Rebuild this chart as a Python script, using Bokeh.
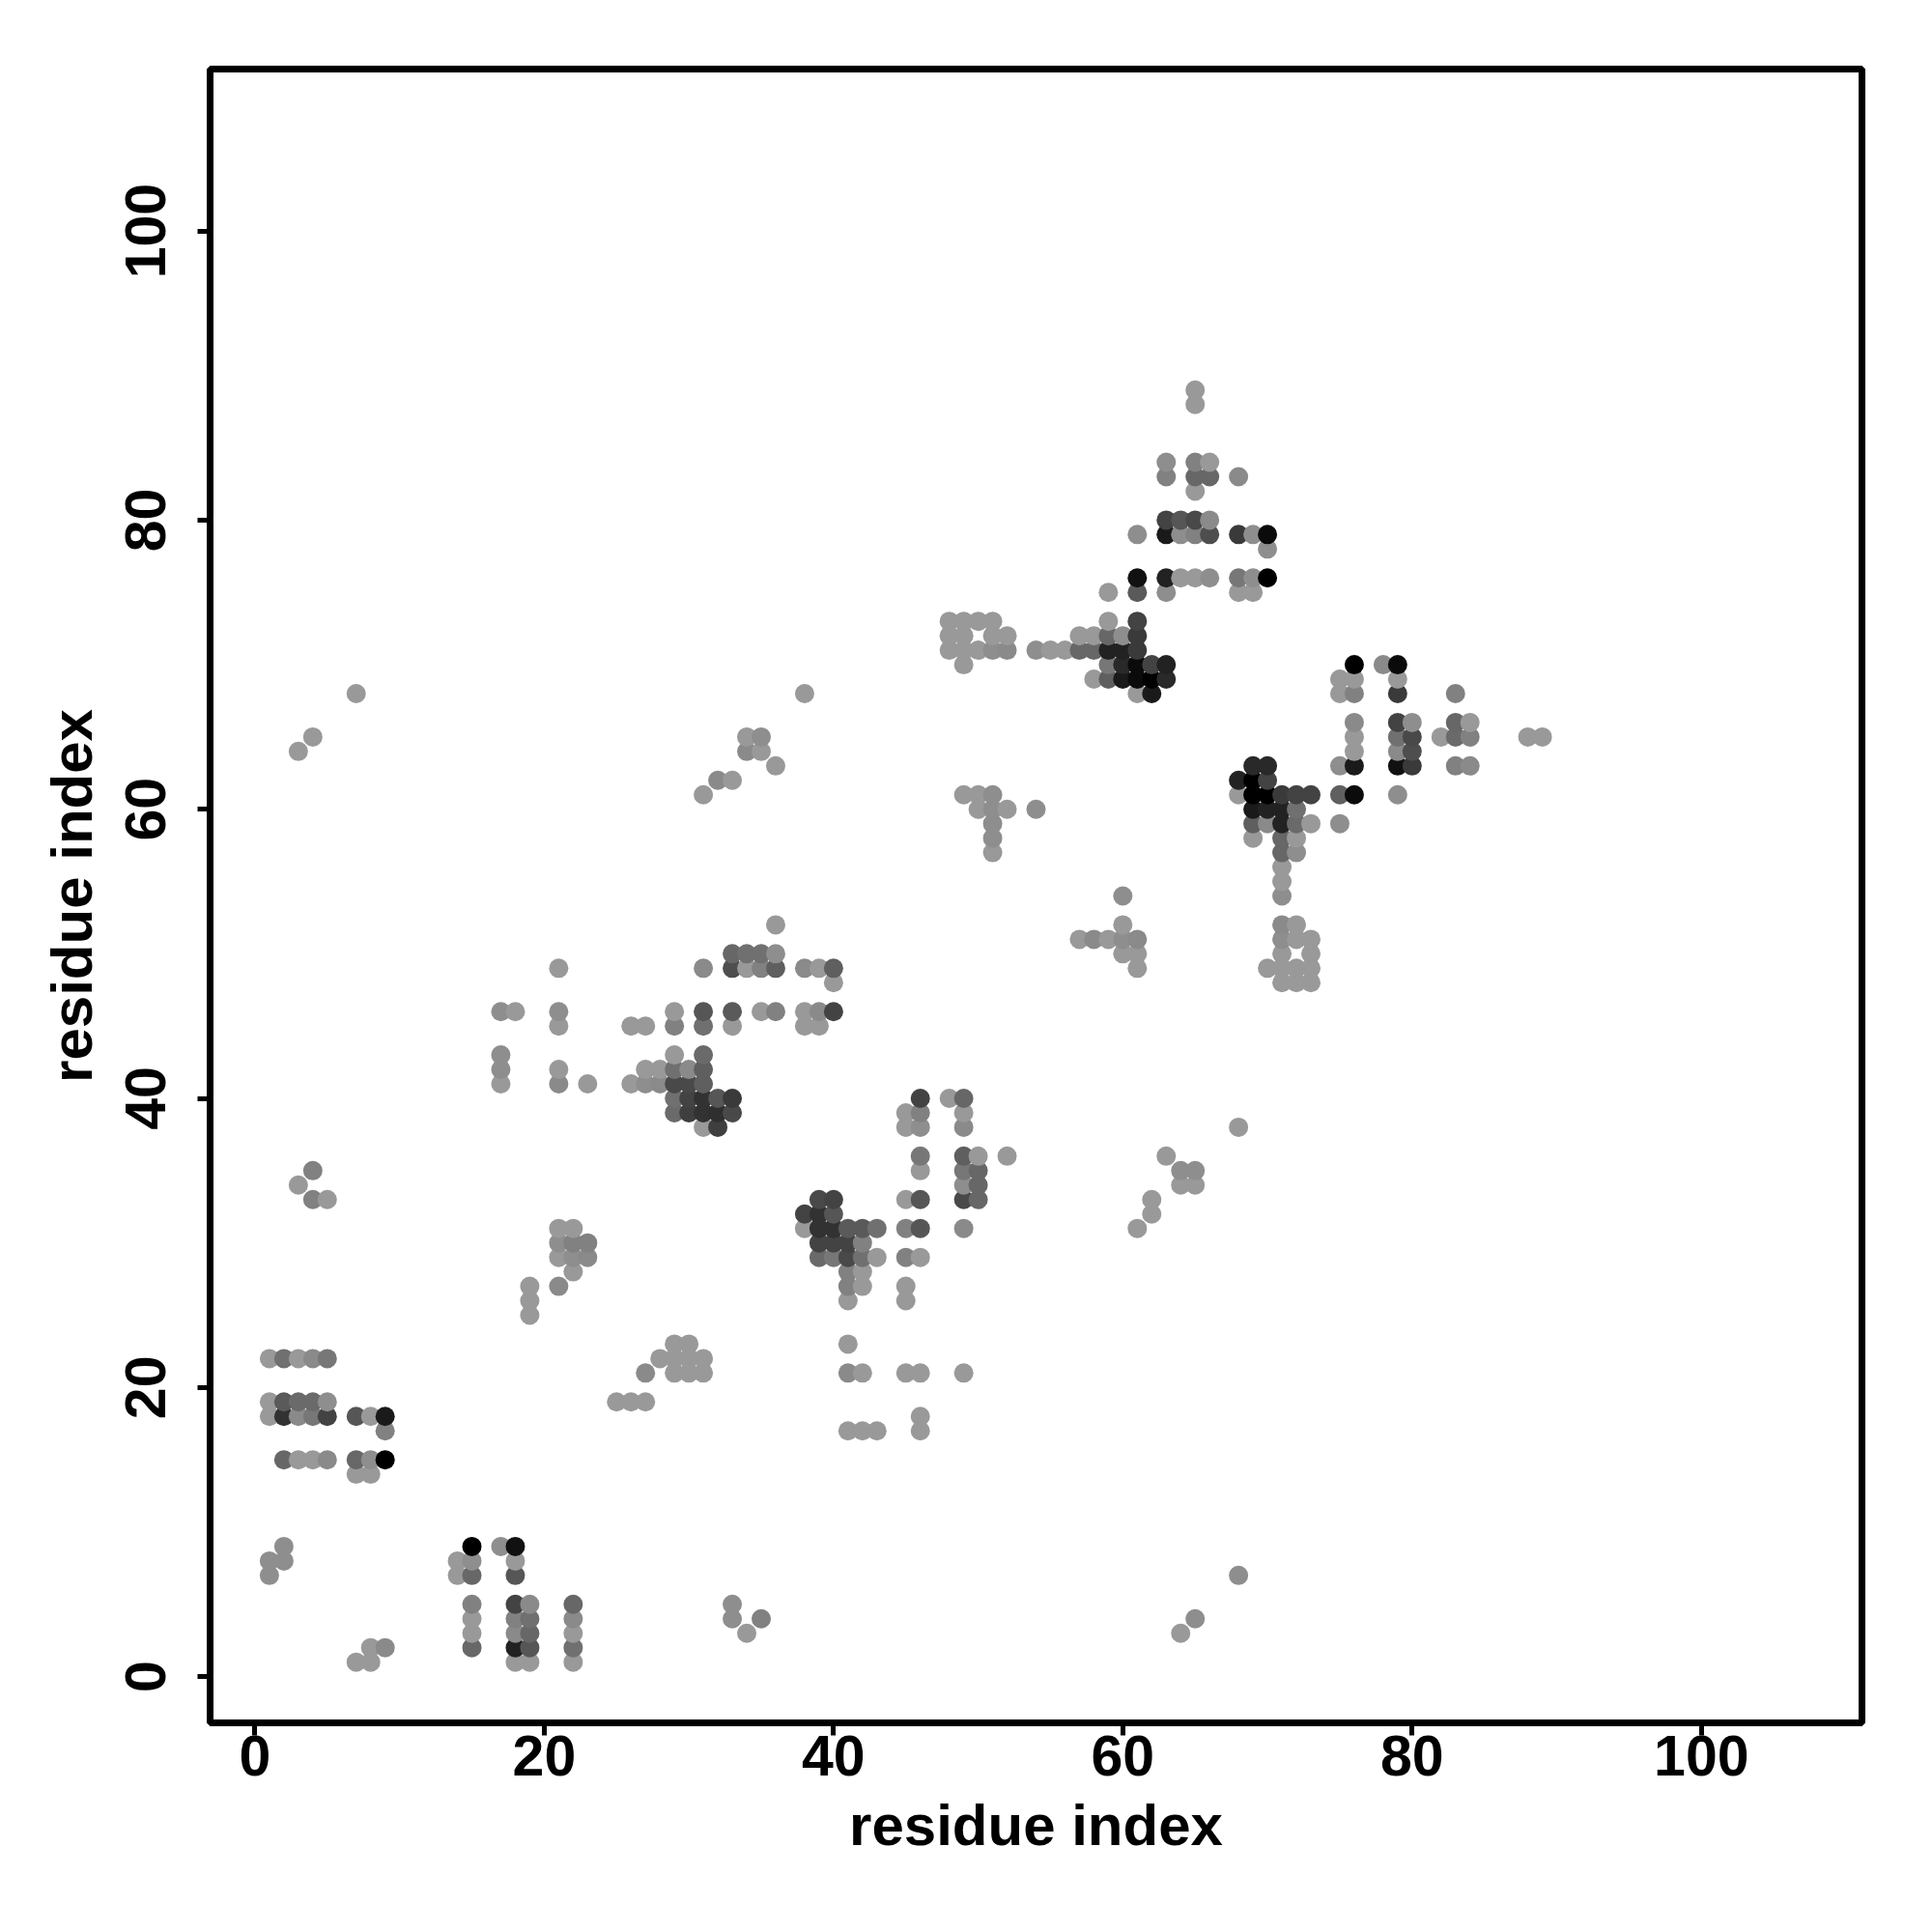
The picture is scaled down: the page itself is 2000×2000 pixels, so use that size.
from bokeh.plotting import figure
from bokeh.models import ColumnDataSource, Range1d, FixedTicker
from bokeh.embed import file_html
from bokeh.resources import INLINE

# Contact rows: each row is one y residue, with its x residues and a contact score (0-100).
row_y = [1, 2, 3, 4, 5, 7, 8, 9, 14, 15, 17, 18, 19, 21, 22, 23, 25, 26, 27, 28, 29, 30, 31, 32, 33, 34, 35, 36, 38, 39, 40,
         41, 42, 43, 45, 46, 48, 49, 50, 51, 52, 54, 55, 56, 57, 58, 59, 60, 61, 62, 63, 64, 65, 66, 68, 69, 70, 71, 72, 73,
         75, 76, 78, 79, 80, 82, 83, 84, 88, 89]
row_x = [
    [7, 8, 18, 19, 22],
    [8, 9, 15, 18, 19, 22],
    [15, 18, 19, 22, 34, 64],
    [15, 18, 19, 22, 33, 35, 65],
    [15, 18, 19, 22, 33],
    [1, 14, 15, 18, 68],
    [1, 2, 14, 15, 18],
    [2, 15, 17, 18],
    [7, 8],
    [2, 3, 4, 5, 7, 8, 9],
    [9, 41, 42, 43, 46],
    [1, 2, 3, 4, 5, 7, 8, 9, 46],
    [1, 2, 3, 4, 5, 25, 26, 27],
    [27, 29, 30, 31, 41, 42, 45, 46, 49],
    [1, 2, 3, 4, 5, 28, 29, 30, 31],
    [29, 30, 41],
    [19],
    [19, 41, 45],
    [19, 21, 41, 42, 45],
    [22, 41, 42],
    [21, 22, 23, 39, 40, 41, 42, 43, 45, 46],
    [21, 22, 23, 39, 40, 41, 42],
    [21, 22, 38, 39, 40, 41, 42, 43, 45, 46, 49, 61],
    [38, 39, 40, 62],
    [4, 5, 39, 40, 45, 46, 49, 50, 62],
    [3, 49, 50, 64, 65],
    [4, 46, 49, 50, 64, 65],
    [46, 49, 50, 52, 63],
    [31, 32, 45, 46, 49, 68],
    [29, 30, 31, 32, 33, 45, 46, 49],
    [29, 30, 31, 32, 33, 46, 48, 49],
    [17, 21, 23, 26, 27, 28, 29, 30, 31],
    [17, 21, 27, 28, 29, 30, 31],
    [17, 29, 31],
    [21, 26, 27, 29, 31, 33, 38, 39],
    [17, 18, 21, 29, 31, 33, 35, 36, 38, 39, 40],
    [40, 71, 72, 73],
    [21, 31, 33, 34, 35, 36, 38, 39, 40, 61, 70, 71, 72, 73],
    [33, 34, 35, 36, 60, 61, 71, 73],
    [57, 58, 59, 60, 61, 71, 72, 73],
    [36, 60, 71, 72],
    [60, 71],
    [71],
    [71],
    [51, 71, 72],
    [51, 69, 71, 72],
    [51, 69, 70, 71, 72, 73, 75],
    [50, 51, 52, 54, 69, 70, 71, 72],
    [31, 49, 50, 51, 68, 69, 70, 71, 72, 73, 75, 76, 79],
    [32, 33, 68, 69, 70],
    [36, 69, 70, 75, 76, 79, 80, 83, 84],
    [3, 34, 35, 76, 79, 80],
    [4, 34, 35, 76, 79, 80, 82, 83, 84, 88, 89],
    [76, 79, 80, 83, 84],
    [7, 38, 61, 62, 75, 76, 79, 83],
    [58, 59, 60, 61, 62, 63, 75, 76, 79],
    [49, 59, 60, 61, 62, 63, 76, 78, 79],
    [48, 49, 50, 51, 52, 54, 55, 56, 57, 58, 59, 60, 61],
    [48, 49, 51, 52, 57, 58, 59, 60, 61],
    [48, 49, 50, 51, 59, 61],
    [59, 61, 63, 68, 69],
    [61, 63, 64, 65, 66, 68, 69, 70],
    [70],
    [61, 63, 64, 65, 66, 68, 69, 70],
    [63, 64, 65, 66],
    [65],
    [63, 65, 66, 68],
    [63, 65, 66],
    [65],
    [65],
]
row_score = [
    [0, 0, 0, 0, 0],
    [0, 10, 33, 78, 44, 27],
    [0, 10, 33, 0, 0, 0],
    [0, 16, 27, 10, 7, 16, 7],
    [16, 56, 10, 33, 7],
    [7, 0, 33, 44, 7],
    [7, 7, 0, 7, 0],
    [7, 100, 7, 89],
    [0, 0],
    [33, 0, 0, 10, 33, 7, 100],
    [16, 0, 0, 0, 0],
    [0, 67, 10, 22, 56, 44, 0, 83, 0],
    [0, 41, 31, 31, 7, 0, 0, 0],
    [10, 0, 0, 0, 10, 0, 0, 0, 0],
    [0, 27, 0, 10, 22, 0, 0, 0, 0],
    [0, 0, 0],
    [0],
    [0, 0, 0],
    [0, 10, 16, 0, 0],
    [0, 16, 0],
    [0, 7, 10, 31, 22, 52, 27, 0, 16, 0],
    [7, 16, 16, 56, 56, 56, 16],
    [0, 0, 0, 67, 67, 41, 41, 27, 16, 44, 10, 0],
    [56, 67, 44, 0],
    [16, 0, 52, 56, 0, 44, 52, 33, 0],
    [0, 7, 33, 0, 0],
    [16, 0, 22, 33, 7, 7],
    [22, 38, 0, 0, 0],
    [0, 59, 0, 7, 10, 0],
    [31, 59, 67, 69, 52, 0, 16, 0],
    [27, 56, 67, 44, 62, 56, 0, 33],
    [0, 10, 0, 0, 7, 10, 52, 52, 38],
    [7, 0, 0, 0, 27, 10, 38],
    [7, 0, 31],
    [0, 0, 0, 16, 27, 0, 0, 0],
    [7, 0, 7, 0, 44, 41, 0, 16, 0, 10, 56],
    [0, 0, 0, 0],
    [0, 10, 49, 0, 16, 38, 10, 0, 38, 0, 0, 0, 0, 0],
    [33, 27, 27, 7, 0, 0, 0, 0],
    [0, 10, 0, 7, 10, 7, 0, 0],
    [0, 0, 10, 0],
    [7, 7],
    [0],
    [0],
    [0, 33, 7],
    [7, 0, 33, 0],
    [7, 38, 10, 78, 31, 0, 7],
    [0, 7, 0, 7, 83, 78, 78, 27],
    [0, 0, 0, 7, 0, 100, 100, 62, 56, 56, 38, 93, 7],
    [10, 0, 78, 100, 56],
    [0, 73, 73, 7, 83, 89, 62, 16, 10],
    [0, 10, 0, 0, 10, 49],
    [0, 0, 7, 0, 27, 52, 0, 31, 16, 0, 0],
    [10, 56, 7, 33, 0],
    [0, 0, 0, 83, 0, 16, 62, 16],
    [0, 38, 83, 93, 100, 73, 0, 0, 0],
    [0, 22, 73, 93, 56, 78, 100, 10, 93],
    [0, 0, 0, 7, 10, 7, 0, 0, 33, 33, 78, 78, 62],
    [0, 0, 0, 0, 0, 0, 33, 7, 62],
    [0, 0, 0, 0, 0, 56],
    [0, 41, 7, 0, 0],
    [89, 78, 0, 0, 7, 22, 7, 100],
    [7],
    [7, 83, 7, 16, 49, 62, 7, 93],
    [56, 44, 52, 10],
    [0],
    [16, 33, 33, 10],
    [7, 16, 0],
    [0],
    [0],
]
tick_values = [0, 20, 40, 60, 80, 100]
axis_title = "residue index"

xs, ys, scores = [], [], []
for yv, xr, sr in zip(row_y, row_x, row_score):
    assert len(xr) == len(sr), (yv, len(xr), len(sr))
    for xv, sv in zip(xr, sr):
        xs.append(xv)
        ys.append(yv)
        scores.append(sv)


def grey(score):
    g = round(153 * (1 - score / 100))
    return f"#{g:02x}{g:02x}{g:02x}"


src = ColumnDataSource(dict(x=xs, y=ys, c=[grey(s) for s in scores]))

p = figure(width=1984, height=1984, output_backend="svg", toolbar_location=None,
           x_range=Range1d(-3.1, 111.1), y_range=Range1d(-3.2, 111.2),
           min_border_left=217, min_border_right=57, min_border_top=71, min_border_bottom=201)
p.grid.visible = False
p.background_fill_color = "white"
p.outline_line_color = "black"
p.outline_line_width = 7

for ax in (p.xaxis[0], p.yaxis[0]):
    ax.ticker = FixedTicker(ticks=tick_values)
    ax.axis_label = axis_title
    ax.axis_line_color = None
    ax.major_tick_line_color = "black"
    ax.major_tick_line_width = 5
    ax.major_tick_in = 0
    ax.major_tick_out = 13
    ax.minor_tick_line_color = None
    ax.major_label_text_font = "Liberation Sans"
    ax.major_label_text_font_style = "bold"
    ax.major_label_text_font_size = "59px"
    ax.major_label_text_color = "black"
    ax.axis_label_text_font = "Liberation Sans"
    ax.axis_label_text_font_style = "bold"
    ax.axis_label_text_font_size = "60px"
    ax.axis_label_text_color = "black"
p.xaxis[0].major_label_standoff = 0
p.xaxis[0].axis_label_standoff = 15
p.yaxis[0].major_label_standoff = 33
p.yaxis[0].axis_label_standoff = 20
p.yaxis[0].major_label_orientation = "vertical"

p.scatter("x", "y", source=src, size=20, fill_color="c", line_color=None)

open("out.html", "w").write(file_html(p, INLINE))
